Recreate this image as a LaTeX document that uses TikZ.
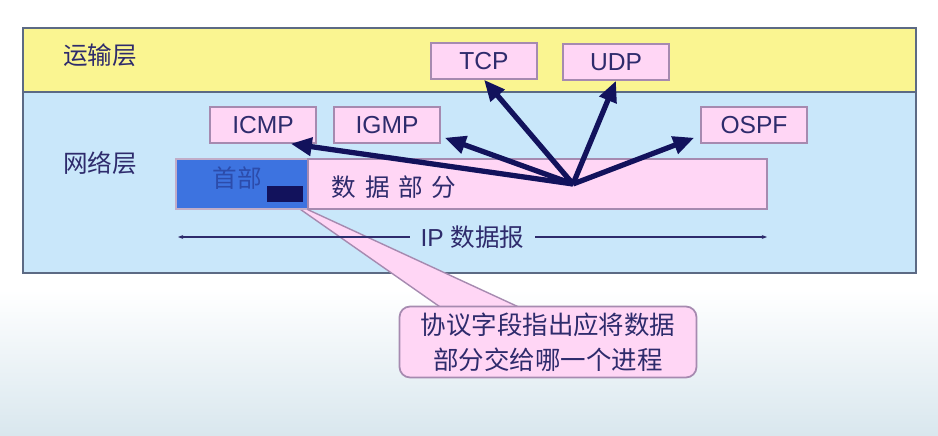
\documentclass[tikz,border=0pt]{standalone}
\usepackage{fontspec}
\setmainfont{Liberation Sans}
\newfontfamily\cjk{Noto Sans CJK SC}
\usepackage{tikz}
\usetikzlibrary{arrows.meta}
\usetikzlibrary{positioning}
\usetikzlibrary{calc}
\definecolor{layeryellow}{HTML}{FAF591}
\definecolor{layerblue}{HTML}{C9E7FA}
\definecolor{boxpink}{HTML}{FFD6F5}
\definecolor{hdrblue}{HTML}{3D73E0}
\definecolor{navy}{HTML}{12125C}
\definecolor{ink}{HTML}{2E2B6C}
\definecolor{frame}{HTML}{5C6A84}
\definecolor{pinkedge}{HTML}{A68AB0}
\definecolor{haze}{HTML}{D9E7EE}

\begin{document}
\begin{tikzpicture}[x=0.02cm,y=-0.02cm,
  every node/.style={text=ink,font=\fontsize{14}{17}\selectfont},
  proto/.style={draw=pinkedge,fill=boxpink,line width=0.8pt,minimum width=2.12cm,minimum height=0.72cm,inner sep=0pt},
  fat/.style={navy,line width=3pt,-{Triangle[length=12pt,width=10pt]}}]
  \useasboundingbox (0,0) rectangle (938,436);
  \fill[white] (0,0) rectangle (938,436);
  \shade[top color=white,bottom color=haze] (0,290) rectangle (938,436);

  \filldraw[fill=layeryellow,draw=frame,line width=1pt] (23,28) rectangle (916,92);
  \filldraw[fill=layerblue,draw=frame,line width=1pt] (23,92) rectangle (916,273);
  \node (tl) at (100,55) {\cjk 运输层};
  \node (nl) at (100,163) {\cjk 网络层};

  \node[proto] (tcp) at (484,61) {TCP};
  \node[proto] (udp) at (616,62) {UDP};
  \node[proto] (icmp) at (263,125) {ICMP};
  \node[proto] (igmp) at (387,125) {IGMP};
  \node[proto] (ospf) at (754,125) {OSPF};

  % callout pointer, under the header
  \filldraw[fill=boxpink,draw=pinkedge,line width=0.8pt] (287,200) -- (443,309) -- (523,309) -- cycle;

  \node[draw=pinkedge!70,fill=hdrblue,line width=1.2pt,minimum width=2.64cm,minimum height=1cm,inner sep=0pt] (hdr) at (242,184) {};
  \node[text=hdrblue!60!navy] (hdrtext) at (237,178) {\cjk 首部};
  \node[fill=navy,minimum width=0.72cm,minimum height=0.32cm,inner sep=0pt] (pfield) at (285,194) {};
  \node[draw=pinkedge,fill=boxpink,line width=0.8pt,minimum width=9.18cm,minimum height=1cm,inner sep=0pt] (data) at (537.5,184) {};
  \node (datatext) at (394,187) {\cjk 数\hspace{5pt}据\hspace{5pt}部\hspace{5pt}分};

  \coordinate (hub) at (573,184);
  \draw[fat] (hub) -- ($(icmp.south east)+(-26,0)$);
  \draw[fat] (hub) -- ($(igmp.south east)+(4,-6)$);
  \draw[fat] (hub) -- (tcp.south);
  \draw[fat] (hub) -- (udp.south);
  \draw[fat] (hub) -- ($(ospf.south west)+(-6,-6)$);

  \coordinate (ipl) at (178,237);
  \coordinate (ipr) at (767,237);
  \draw[ink,line width=0.6pt,{Stealth[length=3pt]}-{Stealth[length=3pt]}] (ipl) -- node[fill=layerblue,inner ysep=1pt,inner xsep=6pt] (iplabel) {IP {\cjk 数据报}} (ipr);

  \node[draw=pinkedge,fill=boxpink,line width=1pt,rounded corners=6pt,minimum width=5.94cm,minimum height=1.42cm,align=center,font=\fontsize{14.5}{20}\selectfont\cjk] (note) at (548,342) {协议字段指出应将数据\\部分交给哪一个进程};
\end{tikzpicture}
\end{document}
